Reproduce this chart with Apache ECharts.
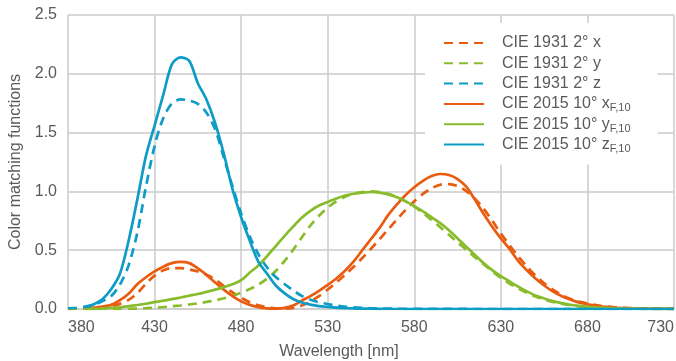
<!DOCTYPE html>
<html>
<head>
<meta charset="utf-8">
<script src="https://cdn.jsdelivr.net/npm/echarts@6/dist/echarts.min.js"></script>
<style>
  html, body { margin: 0; padding: 0; background: #fff; }
  #main { width: 676px; height: 361px; }
</style>
</head>
<body>
<div id="main"></div>
<script>
// wavelength grids (nm, 5 nm steps)
const start1931 = 380;
const start2015 = 390;
const step = 5;

// CIE 1931 2° colour matching functions, 380..730 nm
const cie1931X = [
  0.0014, 0.0022, 0.0042, 0.0077, 0.0143, 0.0232, 0.0435, 0.0776, 0.1344, 0.2148,
  0.2839, 0.3285, 0.3483, 0.3481, 0.3362, 0.3187, 0.2908, 0.2511, 0.1954, 0.1421,
  0.0956, 0.0580, 0.0320, 0.0147, 0.0049, 0.0024, 0.0093, 0.0291, 0.0633, 0.1096,
  0.1655, 0.2257, 0.2904, 0.3597, 0.4334, 0.5121, 0.5945, 0.6784, 0.7621, 0.8425,
  0.9163, 0.9786, 1.0263, 1.0567, 1.0622, 1.0456, 1.0026, 0.9384, 0.8544, 0.7514,
  0.6424, 0.5419, 0.4479, 0.3608, 0.2835, 0.2187, 0.1649, 0.1212, 0.0874, 0.0636,
  0.0468, 0.0329, 0.0227, 0.0158, 0.0114, 0.0081, 0.0058, 0.0041, 0.0029, 0.0020,
  0.0014
];
const cie1931Y = [
  0.0000, 0.0001, 0.0001, 0.0002, 0.0004, 0.0006, 0.0012, 0.0022, 0.0040, 0.0073,
  0.0116, 0.0168, 0.0230, 0.0298, 0.0380, 0.0480, 0.0600, 0.0739, 0.0910, 0.1126,
  0.1390, 0.1693, 0.2080, 0.2586, 0.3230, 0.4073, 0.5030, 0.6082, 0.7100, 0.7932,
  0.8620, 0.9149, 0.9540, 0.9803, 0.9950, 1.0000, 0.9950, 0.9786, 0.9520, 0.9154,
  0.8700, 0.8163, 0.7570, 0.6949, 0.6310, 0.5668, 0.5030, 0.4412, 0.3810, 0.3210,
  0.2650, 0.2170, 0.1750, 0.1382, 0.1070, 0.0816, 0.0610, 0.0446, 0.0320, 0.0232,
  0.0170, 0.0119, 0.0082, 0.0057, 0.0041, 0.0029, 0.0021, 0.0015, 0.0010, 0.0007,
  0.0005
];
const cie1931Z = [
  0.0065, 0.0106, 0.0201, 0.0362, 0.0679, 0.1102, 0.2074, 0.3713, 0.6456, 1.0391,
  1.3856, 1.6230, 1.7471, 1.7826, 1.7721, 1.7441, 1.6692, 1.5281, 1.2876, 1.0419,
  0.8130, 0.6162, 0.4652, 0.3533, 0.2720, 0.2123, 0.1582, 0.1117, 0.0783, 0.0573,
  0.0422, 0.0298, 0.0203, 0.0134, 0.0088, 0.0058, 0.0039, 0.0028, 0.0021, 0.0018,
  0.0017, 0.0014, 0.0011, 0.0010, 0.0008, 0.0006, 0.0003, 0.0002, 0.0002, 0.0001,
  0.0001, 0, 0, 0, 0, 0, 0, 0, 0, 0,
  0, 0, 0, 0, 0, 0, 0, 0, 0, 0,
  0
];

// CIE 2015 10° cone-fundamental-based functions, 390..730 nm
const cie2015X = [
  0.004, 0.012, 0.020, 0.035, 0.075, 0.13, 0.21, 0.27, 0.32, 0.36,
  0.39, 0.40, 0.39, 0.345, 0.29, 0.225, 0.165, 0.11, 0.065, 0.035,
  0.015, 0.005, 0.003, 0.01, 0.03, 0.07, 0.11, 0.155, 0.205, 0.26,
  0.325, 0.405, 0.50, 0.595, 0.69, 0.80, 0.89, 0.97, 1.035, 1.09,
  1.13, 1.148, 1.14, 1.105, 1.04, 0.93, 0.81, 0.70, 0.60, 0.51,
  0.41, 0.33, 0.26, 0.20, 0.15, 0.11, 0.08, 0.056, 0.04, 0.027,
  0.018, 0.012, 0.008, 0.005, 0.0035, 0.0024, 0.0017, 0.0011, 0.0008
];
const cie2015Y = [
  0.0004, 0.0015, 0.004, 0.009, 0.015, 0.024, 0.034, 0.045, 0.058, 0.07,
  0.084, 0.098, 0.113, 0.128, 0.146, 0.165, 0.186, 0.21, 0.245, 0.31,
  0.37, 0.45, 0.535, 0.62, 0.70, 0.775, 0.835, 0.88, 0.91, 0.94,
  0.965, 0.98, 0.99, 0.995, 0.99, 0.975, 0.95, 0.915, 0.875, 0.83,
  0.78, 0.73, 0.67, 0.60, 0.53, 0.46, 0.39, 0.33, 0.28, 0.235,
  0.19, 0.15, 0.115, 0.09, 0.068, 0.05, 0.036, 0.026, 0.018, 0.013,
  0.009, 0.006, 0.004, 0.003, 0.002, 0.0014, 0.001, 0.0007, 0.0005
];
const cie2015Z = [
  0.014, 0.04, 0.085, 0.17, 0.30, 0.58, 0.93, 1.30, 1.56, 1.82,
  2.08, 2.14, 2.11, 1.92, 1.78, 1.58, 1.32, 1.02, 0.78, 0.58,
  0.40, 0.30, 0.20, 0.135, 0.085, 0.055, 0.037, 0.025, 0.018, 0.012,
  0.008, 0.005, 0.003, 0.002, 0.001, 0, 0, 0, 0, 0,
  0, 0, 0, 0, 0, 0, 0, 0, 0, 0,
  0, 0, 0, 0, 0, 0, 0, 0, 0, 0,
  0, 0, 0, 0, 0, 0, 0, 0, 0
];

const xTicks = [380, 430, 480, 530, 580, 630, 680, 730];
const yTicks = [0, 0.5, 1.0, 1.5, 2.0, 2.5];

const ORANGE = '#e95c10';
const GREEN = '#89bc2c';
const BLUE = '#0c9cc6';
const TEXT = '#5a5a5a';
const GRID = '#cbcbcb';
const FONT = '"Liberation Sans", Arial, sans-serif';

const pairs = (start, values) => values.map((v, i) => [start + i * step, v]);

const line = (name, start, values, color, dashed) => ({
  name,
  type: 'line',
  data: pairs(start, values),
  symbol: 'none',
  smooth: 0.3,
  lineStyle: { color, width: 2.7, type: dashed ? [9, 6] : 'solid' },
  itemStyle: { color },
  emphasis: { disabled: true },
});

const chart = echarts.init(document.getElementById('main'), null, { renderer: 'canvas' });

chart.setOption({
  animation: false,
  backgroundColor: '#fff',
  textStyle: { fontFamily: FONT },
  grid: { left: 68, right: 2, top: 15, bottom: 52, outerBoundsMode: 'none' },
  legend: {
    left: 425,
    top: 23,
    orient: 'vertical',
    padding: [10, 27, 10, 18],
    backgroundColor: '#fff',
    itemWidth: 40,
    itemHeight: 14,
    itemGap: 0.3,
    selectedMode: false,
    // hide the marker dot that line series put in the middle of the legend icon
    itemStyle: { opacity: 0 },
    textStyle: {
      fontFamily: FONT,
      fontSize: 16,
      color: TEXT,
      lineHeight: 20,
      padding: [0, 0, 0, 13],
      rich: {
        s: { fontFamily: FONT, fontSize: 11, color: TEXT, lineHeight: 8, verticalAlign: 'bottom' },
      },
    },
    formatter: (name) => name.replace(/F,10$/, '{s|F,10}'),
  },
  xAxis: {
    type: 'value',
    min: xTicks[0],
    max: xTicks[xTicks.length - 1],
    interval: 50,
    name: 'Wavelength [nm]',
    nameLocation: 'middle',
    nameGap: 35,
    nameTextStyle: { fontFamily: FONT, fontSize: 16, color: TEXT, padding: [0, 64, 0, 0] },
    axisLine: { show: true, lineStyle: { color: GRID, width: 1.5 } },
    axisTick: { show: false },
    axisLabel: {
      fontFamily: FONT, fontSize: 16, color: TEXT, margin: 11,
      alignMinLabel: 'left', alignMaxLabel: 'right',
    },
    splitLine: { show: true, lineStyle: { color: GRID, width: 1.5 } },
  },
  yAxis: {
    type: 'value',
    min: yTicks[0],
    max: yTicks[yTicks.length - 1],
    interval: 0.5,
    name: 'Color matching functions',
    nameLocation: 'middle',
    nameGap: 42,
    nameTextStyle: { fontFamily: FONT, fontSize: 16, color: TEXT },
    axisLine: { show: false },
    axisTick: { show: false },
    axisLabel: {
      fontFamily: FONT, fontSize: 16, color: TEXT, margin: 11,
      formatter: (v) => v.toFixed(1),
    },
    splitLine: { show: true, lineStyle: { color: GRID, width: 1.5 } },
  },
  series: [
    line('CIE 1931 2° x', start1931, cie1931X, ORANGE, true),
    line('CIE 1931 2° y', start1931, cie1931Y, GREEN, true),
    line('CIE 1931 2° z', start1931, cie1931Z, BLUE, true),
    line('CIE 2015 10° xF,10', start2015, cie2015X, ORANGE, false),
    line('CIE 2015 10° yF,10', start2015, cie2015Y, GREEN, false),
    line('CIE 2015 10° zF,10', start2015, cie2015Z, BLUE, false),
  ],
});
</script>
</body>
</html>
